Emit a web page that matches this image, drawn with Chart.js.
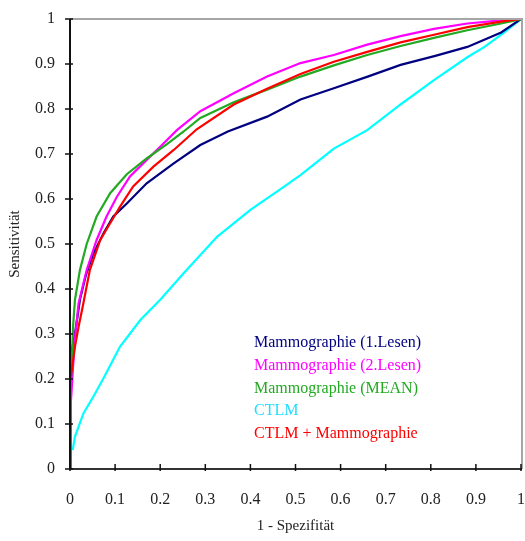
<!DOCTYPE html>
<html>
<head>
<meta charset="utf-8">
<script src="https://cdn.jsdelivr.net/npm/chart.js@4/dist/chart.umd.min.js"></script>
<style>
html,body{margin:0;padding:0;background:#fff;}
#wrap{width:525px;height:541px;position:relative;}
</style>
</head>
<body>
<div id="wrap"><canvas id="c" width="525" height="541"></canvas></div>
<script>
// Series labels
const seriesLabels = ["Mammographie (1.Lesen)", "Mammographie (2.Lesen)", "Mammographie (MEAN)", "CTLM", "CTLM + Mammographie"];
const seriesColors = ["#000080", "#FF00FF", "#22AA22", "#00FFFF", "#FF0000"];

// Mammographie (1.Lesen)
const m1X = [0, 0.002, 0.005, 0.011, 0.022, 0.035, 0.052, 0.075, 0.096, 0.126, 0.17, 0.23, 0.289, 0.35, 0.437, 0.511, 0.585, 0.66, 0.733, 0.81, 0.881, 0.956, 1];
const m1Y = [0, 0.22, 0.27, 0.30, 0.376, 0.43, 0.479, 0.525, 0.561, 0.59, 0.635, 0.679, 0.72, 0.75, 0.783, 0.821, 0.846, 0.872, 0.898, 0.918, 0.938, 0.97, 1];

// Mammographie (2.Lesen)
const m2X = [0, 0.002, 0.005, 0.01, 0.019, 0.037, 0.059, 0.081, 0.104, 0.133, 0.17, 0.2, 0.237, 0.289, 0.363, 0.437, 0.511, 0.585, 0.659, 0.733, 0.807, 0.881, 0.956, 1];
const m2Y = [0, 0.15, 0.198, 0.28, 0.368, 0.442, 0.509, 0.561, 0.605, 0.65, 0.687, 0.716, 0.753, 0.795, 0.835, 0.872, 0.902, 0.92, 0.943, 0.962, 0.978, 0.99, 0.997, 1];

// Mammographie (MEAN)
const mmX = [0, 0.002, 0.004, 0.007, 0.011, 0.022, 0.037, 0.059, 0.089, 0.126, 0.17, 0.215, 0.252, 0.289, 0.363, 0.437, 0.511, 0.585, 0.659, 0.733, 0.807, 0.881, 0.956, 1];
const mmY = [0, 0.2, 0.24, 0.32, 0.376, 0.442, 0.50, 0.561, 0.613, 0.655, 0.69, 0.722, 0.75, 0.78, 0.815, 0.843, 0.872, 0.897, 0.92, 0.94, 0.958, 0.975, 0.99, 1];

// CTLM
const ctX = [0.006, 0.011, 0.03, 0.052, 0.074, 0.111, 0.156, 0.2, 0.252, 0.326, 0.4, 0.474, 0.511, 0.585, 0.659, 0.733, 0.807, 0.881, 0.919, 0.96, 1];
const ctY = [0.042, 0.072, 0.124, 0.161, 0.201, 0.272, 0.331, 0.376, 0.435, 0.516, 0.576, 0.627, 0.653, 0.712, 0.753, 0.81, 0.864, 0.915, 0.938, 0.968, 1];

// CTLM + Mammographie
const cmX = [0, 0, 0.004, 0.011, 0.019, 0.028, 0.044, 0.067, 0.089, 0.111, 0.14, 0.185, 0.23, 0.281, 0.363, 0.437, 0.511, 0.585, 0.659, 0.733, 0.807, 0.881, 0.956, 1];
const cmY = [0, 0.2, 0.22, 0.272, 0.316, 0.36, 0.442, 0.509, 0.546, 0.583, 0.628, 0.672, 0.709, 0.755, 0.81, 0.845, 0.878, 0.905, 0.927, 0.948, 0.965, 0.982, 0.994, 1];

// Tick values
const tickValues = [0, 0.1, 0.2, 0.3, 0.4, 0.5, 0.6, 0.7, 0.8, 0.9, 1];
const xTitle = "1 - Spezifität";
const yTitle = "Sensitivität";

const seriesX = [m1X, m2X, mmX, ctX, cmX];
const seriesY = [m1Y, m2Y, mmY, ctY, cmY];
const drawOrder = [3, 2, 1, 4, 0];

const datasets = seriesLabels.map((lab, i) => ({
  label: lab,
  data: seriesX[i].map((x, j) => ({x: x, y: seriesY[i][j]})),
  borderColor: seriesColors[i],
  backgroundColor: seriesColors[i],
  borderWidth: 2.2,
  pointRadius: 0,
  tension: 0,
  fill: false,
  order: drawOrder[i]
}));

const FONT = "'Liberation Serif', 'Times New Roman', serif";

const framePlugin = {
  id: 'frame',
  afterDatasetsDraw(chart) {
    const ctx = chart.ctx;
    const a = chart.chartArea;
    const xs = chart.scales.x, ys = chart.scales.y;
    ctx.save();
    // gray top and right borders
    ctx.strokeStyle = '#a6a6a6';
    ctx.lineWidth = 2;
    ctx.beginPath();
    ctx.moveTo(a.left, a.top);
    ctx.lineTo(a.right + 1, a.top);
    ctx.lineTo(a.right + 1, a.bottom);
    ctx.stroke();
    // left axis
    ctx.strokeStyle = '#111';
    ctx.lineWidth = 2;
    ctx.beginPath();
    ctx.moveTo(a.left, a.top);
    ctx.lineTo(a.left, a.bottom);
    ctx.stroke();
    // bottom axis
    ctx.strokeStyle = '#333';
    ctx.beginPath();
    ctx.moveTo(a.left, a.bottom);
    ctx.lineTo(a.right + 1, a.bottom);
    ctx.stroke();
    // ticks
    ctx.lineWidth = 1.5;
    ctx.strokeStyle = '#111';
    tickValues.forEach(v => {
      const py = ys.getPixelForValue(v);
      ctx.beginPath();
      ctx.moveTo(a.left - 5, py);
      ctx.lineTo(a.left + 3, py);
      ctx.stroke();
      const px = xs.getPixelForValue(v);
      ctx.beginPath();
      ctx.moveTo(px, a.bottom - 5);
      ctx.lineTo(px, a.bottom + 2);
      ctx.stroke();
    });
    // legend text inside plot
    ctx.font = '16px ' + FONT;
    ctx.textBaseline = 'middle';
    ctx.textAlign = 'left';
    const lx = xs.getPixelForValue(0.408);
    seriesLabels.forEach((lab, i) => {
      ctx.fillStyle = seriesColors[i] === '#00FFFF' ? '#22DDFF' : seriesColors[i];
      const ly = 343 + i * 22.7;
      ctx.fillText(lab, lx, ly);
    });
    ctx.restore();
  }
};

new Chart(document.getElementById('c'), {
  type: 'line',
  data: { datasets },
  options: {
    responsive: false,
    animation: false,
    layout: { padding: { top: 19, right: 4, left: 0, bottom: 0 } },
    plugins: { legend: { display: false }, tooltip: { enabled: false } },
    scales: {
      x: {
        type: 'linear', min: 0, max: 1,
        afterBuildTicks: s => { s.ticks = tickValues.map(v => ({value: v})); },
        afterFit: s => { s.height = 72; s.paddingLeft = 0; s.paddingRight = 0; },
        grid: { display: false },
        border: { display: false },
        ticks: { color: '#222', font: { family: FONT, size: 16 }, padding: 13, maxRotation: 0, autoSkip: false,
          callback: v => String(v) },
        title: { display: true, text: xTitle, color: '#222', font: { family: FONT, size: 15 }, padding: { top: 0, bottom: 6 } }
      },
      y: {
        type: 'linear', min: 0, max: 1,
        afterBuildTicks: s => { s.ticks = tickValues.map(v => ({value: v})); },
        afterFit: s => { s.width = 70; s.paddingTop = 0; s.paddingBottom = 0; },
        grid: { display: false },
        border: { display: false },
        ticks: { color: '#222', font: { family: FONT, size: 16 }, padding: 7, autoSkip: false,
          callback: v => String(v) },
        title: { display: true, text: yTitle, color: '#222', font: { family: FONT, size: 15 }, padding: { top: 6, bottom: 0 } }
      }
    }
  },
  plugins: [framePlugin]
});
</script>
</body>
</html>
